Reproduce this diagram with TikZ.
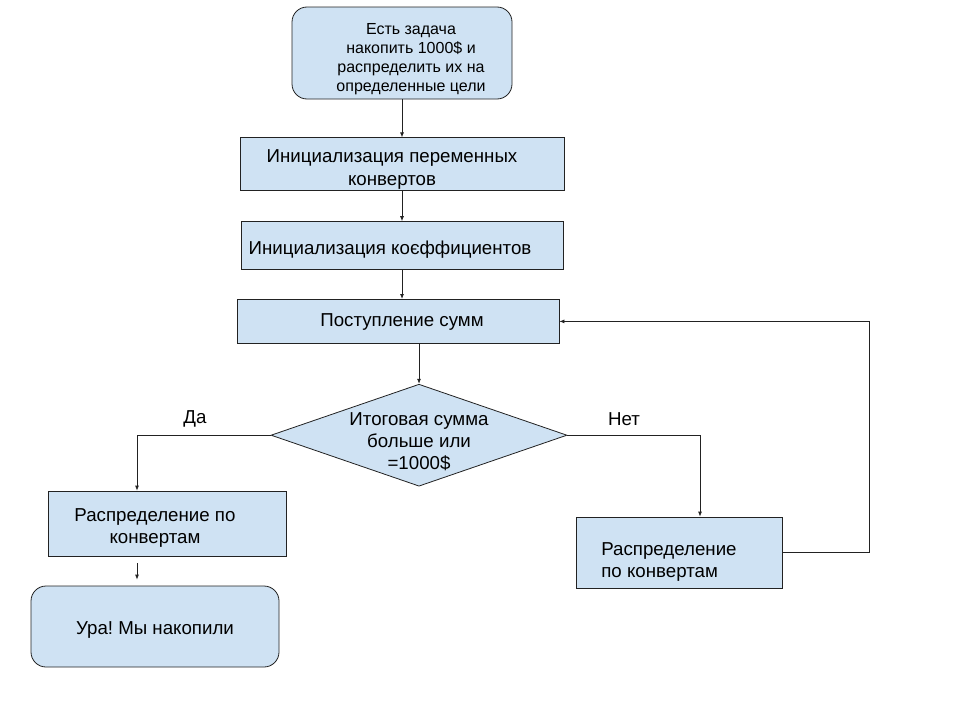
\documentclass[tikz,border=0pt]{standalone}
\usepackage{fontspec}
\setmainfont{Liberation Sans}
\usepackage{xcolor}
\usetikzlibrary{shapes.geometric,arrows.meta,positioning}
\definecolor{boxblue}{HTML}{CFE2F3}
\definecolor{edge}{HTML}{222222}
\frenchspacing

\begin{document}
\begin{tikzpicture}[x=1pt,y=-1pt,font=\fontsize{18.7}{22}\selectfont]
\tikzset{block/.style={rectangle,draw=edge,fill=boxblue,line width=0.8pt,inner sep=0pt},
terminal/.style={block,rounded corners=15pt},
decide/.style={diamond,draw=edge,fill=boxblue,line width=0.8pt,inner sep=0pt},
txt/.style={align=center,text=black},
arr/.style={-{Latex[length=5pt,width=4pt]},draw=edge,line width=0.8pt}}
\useasboundingbox (0,0) rectangle (960,720);

\node[terminal,minimum width=220pt,minimum height=92pt,label={[txt,font=\fontsize{16}{19}\selectfont,xshift=9pt,yshift=-6pt]center:{Есть задача\\накопить 1000\$ и\\распределить их на\\определенные цели}}] (goal) at (402,53) {};
\node[block,below=38pt of goal,minimum width=324pt,minimum height=53pt,label={[txt,font=\fontsize{18.7}{23}\selectfont,xshift=-10pt,yshift=-5pt]center:{Инициализация переменных\\конвертов}}] (initvars) {};
\node[block,below=30pt of initvars,minimum width=322pt,minimum height=48pt,label={[txt,xshift=-12pt,yshift=-4pt]center:{Инициализация коєффициентов}}] (initcoef) {};
\node[block,below=29pt of initcoef,xshift=-4pt,minimum width=322pt,minimum height=44pt,label={[txt,xshift=4pt,yshift=-1pt]center:{Поступление сумм}}] (income) {};
\node[decide,below=40pt of income,xshift=21pt,minimum width=296pt,minimum height=102pt,label={[txt,yshift=-7pt]center:{Итоговая сумма\\больше или\\=1000\$}}] (check) {};

\node[block,minimum width=238pt,minimum height=65pt,label={[txt,xshift=-12pt,yshift=-4pt]center:{Распределение по\\конвертам}}] (payleft) at (167,523.5) {};
\node[terminal,minimum width=248pt,minimum height=81pt,label={[txt,yshift=-3pt]center:{Ура! Мы накопили}}] (done) at (155,626.5) {};
\node[block,minimum width=206pt,minimum height=71pt,label={[align=left,text=black,xshift=-10pt,yshift=-9pt]center:{Распределение\\по конвертам}}] (payright) at (679,552.5) {};

\node (yes) at (195,419) {Да};
\node (no) at (624,419) {Нет};

\draw[arr] (goal) -- (initvars);
\draw[arr] (initvars) -- (initcoef);
\draw[arr] (initcoef.south) -- (initcoef.south |- income.north);
\draw[arr] (check.north |- income.south) -- (check.north);
\draw[arr] (check.west) -| ([xshift=-30pt]payleft.north);
\draw[arr] (check.east) -| ([xshift=21pt]payright.north);
\draw[arr,shorten <=7pt,shorten >=6pt] ([xshift=-30pt]payleft.south) -- ([xshift=-30pt]payleft.south |- done.north);
\draw[arr] (payright.east) -- ++(87,0) coordinate (loopcorner) |- (income.east);
\end{tikzpicture}
\end{document}
